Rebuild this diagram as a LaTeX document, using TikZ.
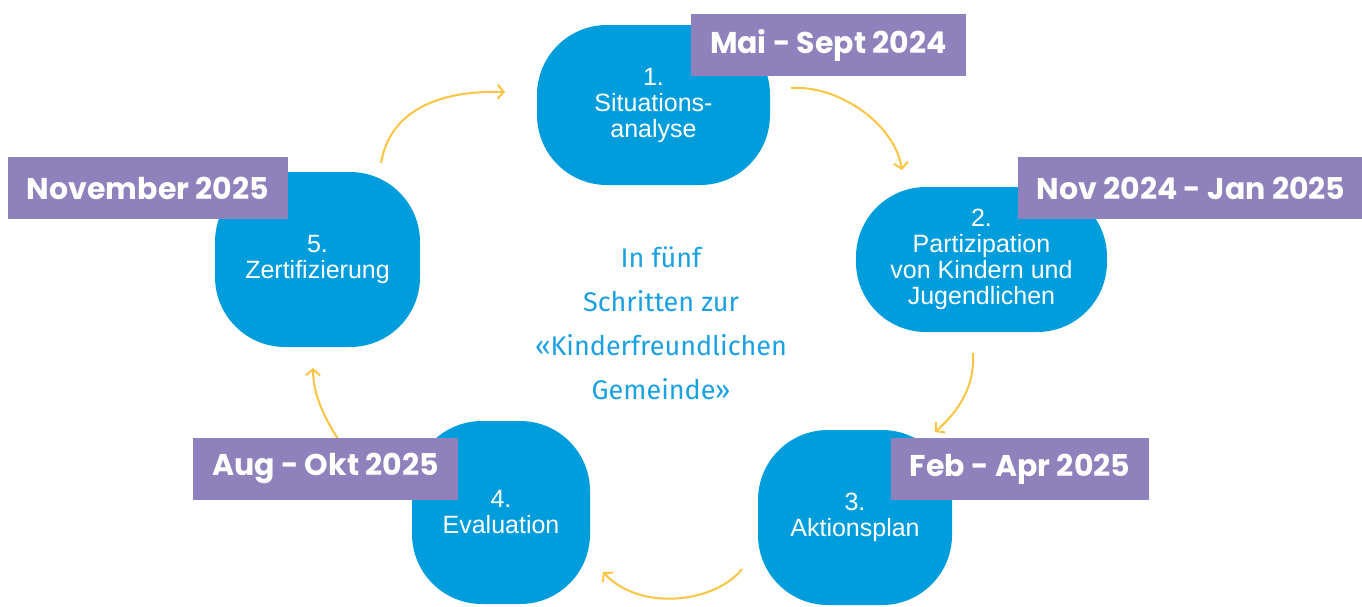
\documentclass[tikz,border=0pt]{standalone}
\usepackage{fontspec}
\usepackage{tikz}
\usetikzlibrary{arrows.meta}
\usetikzlibrary{calc}
\newfontfamily\stepfont{Liberation Sans}
\newfontfamily\datefont{Poppins}
\newfontfamily\mottofont{Fira Sans}
\definecolor{blobblue}{RGB}{0,157,220}
\definecolor{datepurple}{RGB}{143,129,188}
\definecolor{arrowyellow}{RGB}{251,196,66}
\definecolor{mottoblue}{RGB}{27,160,226}
\tikzset{
  blob/.style={fill=blobblue, rounded corners=70pt, inner sep=0pt, text=white, align=center,
    font=\stepfont\fontsize{25}{26}\selectfont},
  datebox/.style={fill=datepurple, text=white, inner xsep=19pt, minimum height=62pt,
    font=\datefont\bfseries\fontsize{30}{30}\selectfont},
  cyclearrow/.style={draw=arrowyellow, line width=2pt, -{Straight Barb[length=6pt,width=14pt]}}
}

\begin{document}
\begin{tikzpicture}[x=1pt, y=-1pt]
\useasboundingbox (0,0) rectangle (1362,606);

% arrow ends
\coordinate (A12) at (791,88);
\coordinate (B12) at (902,170);
\coordinate (A23) at (973,353);
\coordinate (B23) at (935,432);
\coordinate (A34) at (742,569);
\coordinate (B34) at (603,572);
\coordinate (A45) at (342,445);
\coordinate (B45) at (313,368);
\coordinate (A51) at (381,163);
\coordinate (B51) at (505,92);

%%%cycle arrows
\draw[cyclearrow] (A12) .. controls (840,85) and (895,125) .. (B12);
\draw[cyclearrow] (A23) .. controls (975,385) and (960,410) .. (B23);
\draw[cyclearrow] (A34) .. controls (715,603) and (640,612) .. (B34);
\draw[cyclearrow] (A45) .. controls (325,420) and (313,395) .. (B45);
\draw[cyclearrow] (A51) .. controls (390,110) and (440,90) .. (B51);

%%%steps
\node[blob, minimum width=233pt, minimum height=160pt] (S1) at (653.5,105) {1.\\Situations-\\analyse};
\node[blob, minimum width=251pt, minimum height=145pt] (S2) at (981.5,259.5) {2.\\Partizipation\\von Kindern und\\Jugendlichen};
\node[blob, minimum width=194pt, minimum height=175pt] (S3) at (855,517.5) {3.\\Aktionsplan};
\node[blob, minimum width=178pt, minimum height=183pt] (S4) at (501,512.5) {4.\\Evaluation};
\node[blob, minimum width=205pt, minimum height=175pt] (S5) at (317.5,259.5) {5.\\Zertifizierung};

% centre text
\node[text=mottoblue, align=center, font=\mottofont\fontsize{27}{44}\selectfont] (MOTTO) at (661,323)
  {In fünf\\Schritten zur\\«Kinderfreundlichen\\Gemeinde»};

%%%dates
\node[datebox] (D1) at (828.5,45) {Mai - Sept 2024};
\node[datebox] (D2) at (1191,188) {Nov 2024 - Jan 2025};
\node[datebox] (D3) at (1020,469) {Feb - Apr 2025};
\node[datebox] (D4) at (325.5,468.5) {Aug - Okt 2025};
\node[datebox] (D5) at (148,188) {November 2025};

\end{tikzpicture}
\end{document}
